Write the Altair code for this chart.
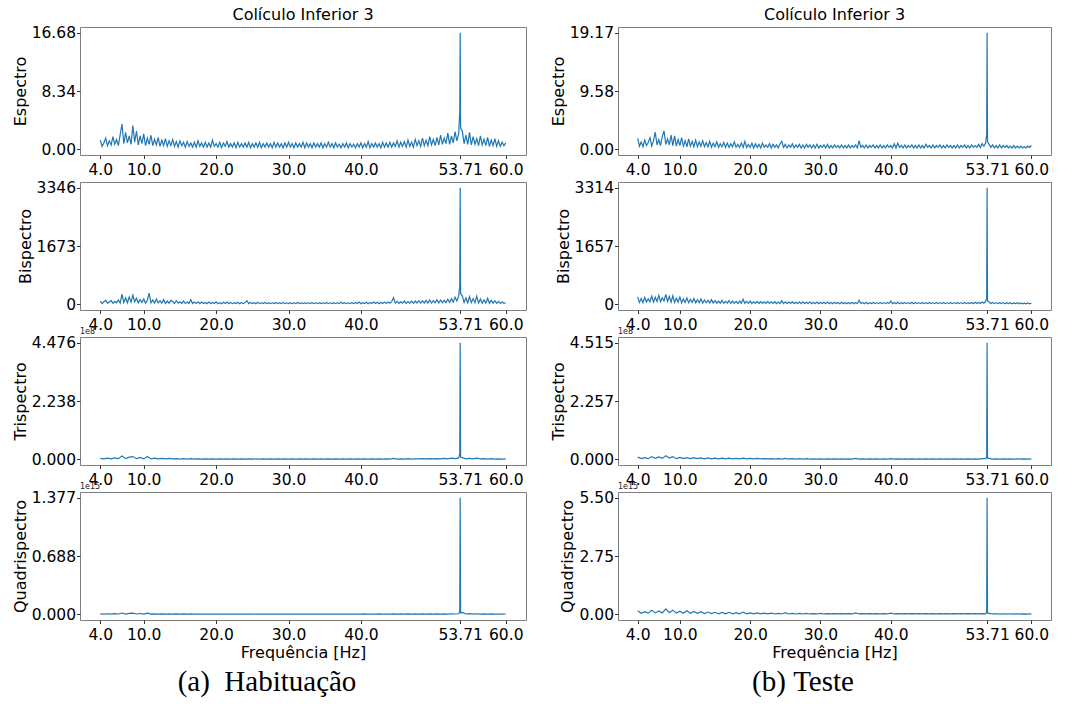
import altair as alt
import pandas as pd

# Frequency grid for the Espectro / Bispectro rows (Hz)
FREQ_A = [4.0, 4.25, 4.5, 4.75, 5.0, 5.25, 5.5, 5.75, 6.0, 6.25, 6.5, 6.75, 7.0, 7.25, 7.5, 7.75, 8.0, 8.25, 8.5, 8.75,
          9.0, 9.25, 9.5, 9.75, 10.0, 10.25, 10.5, 10.75, 11.0, 11.25, 11.5, 11.75, 12.0, 12.25, 12.5, 12.75, 13.0, 13.25, 13.5, 13.75,
          14.0, 14.25, 14.5, 14.75, 15.0, 15.25, 15.5, 15.75, 16.0, 16.25, 16.5, 16.75, 17.0, 17.25, 17.5, 17.75, 18.0, 18.25, 18.5, 18.75,
          19.0, 19.25, 19.5, 19.75, 20.0, 20.25, 20.5, 20.75, 21.0, 21.25, 21.5, 21.75, 22.0, 22.25, 22.5, 22.75, 23.0, 23.25, 23.5, 23.75,
          24.0, 24.25, 24.5, 24.75, 25.0, 25.25, 25.5, 25.75, 26.0, 26.25, 26.5, 26.75, 27.0, 27.25, 27.5, 27.75, 28.0, 28.25, 28.5, 28.75,
          29.0, 29.25, 29.5, 29.75, 30.0, 30.25, 30.5, 30.75, 31.0, 31.25, 31.5, 31.75, 32.0, 32.25, 32.5, 32.75, 33.0, 33.25, 33.5, 33.75,
          34.0, 34.25, 34.5, 34.75, 35.0, 35.25, 35.5, 35.75, 36.0, 36.25, 36.5, 36.75, 37.0, 37.25, 37.5, 37.75, 38.0, 38.25, 38.5, 38.75,
          39.0, 39.25, 39.5, 39.75, 40.0, 40.25, 40.5, 40.75, 41.0, 41.25, 41.5, 41.75, 42.0, 42.25, 42.5, 42.75, 43.0, 43.25, 43.5, 43.75,
          44.0, 44.25, 44.5, 44.75, 45.0, 45.25, 45.5, 45.75, 46.0, 46.25, 46.5, 46.75, 47.0, 47.25, 47.5, 47.75, 48.0, 48.25, 48.5, 48.75,
          49.0, 49.25, 49.5, 49.75, 50.0, 50.25, 50.5, 50.75, 51.0, 51.25, 51.5, 51.75, 52.0, 52.25, 52.5, 52.75, 53.0, 53.25, 53.5,
          53.65, 53.71, 53.77,
          54.0, 54.25, 54.5, 54.75, 55.0, 55.25, 55.5, 55.75, 56.0, 56.25, 56.5, 56.75, 57.0, 57.25, 57.5, 57.75, 58.0, 58.25, 58.5, 58.75,
          59.0, 59.25, 59.5, 59.75, 60.0]

# Frequency grid for the Trispectro / Quadrispectro rows (Hz)
FREQ_B = [4.0, 4.5, 5.0, 5.5, 6.0, 6.5, 7.0, 7.5, 8.0, 8.5,
          9.0, 9.5, 10.0, 10.5, 11.0, 11.5, 12.0, 12.5, 13.0, 13.5,
          14.0, 14.5, 15.0, 15.5, 16.0, 16.5, 17.0, 17.5, 18.0, 18.5,
          19.0, 19.5, 20.0, 20.5, 21.0, 21.5, 22.0, 22.5, 23.0, 23.5,
          24.0, 24.5, 25.0, 25.5, 26.0, 26.5, 27.0, 27.5, 28.0, 28.5,
          29.0, 29.5, 30.0, 30.5, 31.0, 31.5, 32.0, 32.5, 33.0, 33.5,
          34.0, 34.5, 35.0, 35.5, 36.0, 36.5, 37.0, 37.5, 38.0, 38.5,
          39.0, 39.5, 40.0, 40.5, 41.0, 41.5, 42.0, 42.5, 43.0, 43.5,
          44.0, 44.5, 45.0, 45.5, 46.0, 46.5, 47.0, 47.5, 48.0, 48.5,
          49.0, 49.5, 50.0, 50.5, 51.0, 51.5, 52.0, 52.5, 53.0, 53.5,
          53.65, 53.71, 53.77,
          54.0, 54.5, 55.0, 55.5, 56.0, 56.5, 57.0, 57.5, 58.0, 58.5, 59.0, 59.5, 60.0]

ESP_HAB = [1.3, 0.4, 0.9, 1.6, 0.5, 1.2, 0.6, 1.8, 0.7, 1.4, 0.5, 2.1, 3.6, 0.8, 2.4, 0.9, 1.9, 0.7, 3.4, 1.0,
           2.6, 0.6, 1.9, 0.8, 2.2, 0.5, 1.6, 0.7, 2.0, 0.5, 1.4, 0.6, 1.7, 0.4, 1.3, 0.5, 1.5, 0.4, 1.2, 0.5,
           1.4, 0.4, 1.1, 0.3, 1.2, 0.5, 1.0, 0.3, 1.1, 0.4, 0.9, 0.3, 1.0, 0.3, 1.2, 0.4, 0.9, 0.3, 1.0, 0.3,
           0.9, 0.3, 1.3, 0.4, 0.8, 0.3, 1.0, 0.2, 0.9, 0.4, 1.1, 0.3, 0.8, 0.3, 0.9, 0.2, 1.0, 0.3, 0.8, 0.3,
           0.9, 0.3, 1.0, 0.2, 0.8, 0.3, 0.9, 0.3, 1.0, 0.2, 0.8, 0.3, 0.9, 0.3, 0.8, 0.2, 1.0, 0.3, 0.9, 0.3,
           0.8, 0.2, 0.9, 0.3, 1.0, 0.3, 0.8, 0.2, 0.9, 0.3, 0.8, 0.3, 1.0, 0.2, 0.9, 0.3, 0.8, 0.2, 0.9, 0.3,
           0.8, 0.3, 0.9, 0.2, 0.8, 0.3, 1.0, 0.3, 0.8, 0.2, 0.9, 0.3, 0.7, 0.2, 0.8, 0.3, 0.9, 0.2, 0.8, 0.3,
           0.7, 0.2, 0.8, 0.3, 0.9, 0.2, 0.8, 0.3, 1.1, 0.2, 0.8, 0.3, 0.9, 0.3, 0.8, 0.2, 1.0, 0.3, 0.9, 0.3,
           1.0, 0.3, 0.9, 0.4, 1.2, 0.3, 1.0, 0.4, 1.1, 0.3, 1.3, 0.4, 1.0, 0.3, 1.4, 0.5, 1.2, 0.4, 1.6, 0.5,
           1.3, 0.5, 1.8, 0.6, 1.4, 0.5, 1.7, 0.6, 2.0, 0.7, 1.6, 0.8, 2.3, 0.7, 1.9, 0.9, 2.5, 1.2, 2.2,
           5.3, 16.68, 3.0,
           2.6, 0.8, 2.0, 0.7, 2.4, 0.6, 1.8, 0.7, 1.5, 0.5, 1.9, 0.6, 1.4, 0.5, 1.7, 0.4, 1.3, 0.5, 1.5, 0.4,
           1.2, 0.4, 1.0, 0.5, 0.9]

ESP_TES = [1.8, 0.5, 1.2, 0.4, 1.5, 0.6, 1.1, 1.9, 0.5, 1.4, 2.8, 0.7, 1.6, 0.6, 2.1, 3.0, 0.8, 1.7, 0.7, 2.3,
           0.6, 2.2, 0.5, 1.6, 0.6, 1.9, 0.5, 1.4, 0.4, 1.7, 0.5, 1.3, 0.4, 1.5, 0.4, 1.2, 0.5, 1.4, 0.4, 1.1,
           0.4, 1.3, 0.3, 1.0, 0.4, 1.2, 0.3, 0.9, 0.4, 1.1, 0.3, 1.0, 0.3, 0.9, 0.4, 1.2, 0.3, 0.8, 0.3, 1.0,
           0.3, 1.3, 0.3, 0.8, 0.3, 1.0, 0.2, 0.9, 0.3, 0.8, 0.2, 1.0, 0.3, 0.7, 0.3, 0.9, 0.2, 0.8, 0.3, 0.7,
           0.2, 0.9, 1.3, 0.3, 0.8, 0.2, 0.7, 0.3, 0.9, 0.2, 0.7, 0.3, 0.8, 0.2, 0.7, 0.2, 0.8, 0.3, 0.7, 0.2,
           0.7, 0.2, 0.8, 0.2, 0.6, 0.3, 0.7, 0.2, 0.8, 0.2, 0.6, 0.2, 0.7, 0.3, 0.6, 0.2, 0.7, 0.2, 0.6, 0.2,
           0.7, 0.2, 0.6, 0.3, 0.7, 0.2, 1.4, 0.3, 0.6, 0.2, 0.7, 0.2, 0.6, 0.3, 0.7, 0.2, 0.6, 0.2, 0.7, 0.2,
           0.6, 0.2, 0.7, 0.3, 0.6, 0.2, 0.9, 0.2, 1.0, 0.3, 0.6, 0.2, 0.7, 0.2, 0.6, 0.3, 0.7, 0.2, 0.6, 0.2,
           0.7, 0.2, 0.6, 0.2, 0.8, 0.3, 0.6, 0.2, 0.7, 0.2, 0.6, 0.3, 0.7, 0.2, 0.6, 0.2, 0.7, 0.3, 0.6, 0.2,
           0.6, 0.2, 0.7, 0.2, 0.6, 0.3, 0.7, 0.2, 0.6, 0.2, 0.7, 0.3, 0.6, 0.3, 0.8, 0.3, 0.9, 0.5, 1.0,
           2.4, 19.17, 1.2,
           0.8, 0.3, 0.7, 0.2, 0.6, 0.2, 0.7, 0.2, 0.6, 0.3, 0.6, 0.2, 0.5, 0.2, 0.6, 0.2, 0.5, 0.2, 0.5, 0.2,
           0.4, 0.2, 0.5, 0.3, 0.6]

BIS_HAB = [90, 20, 70, 110, 30, 60, 100, 25, 80, 40, 120, 30, 290, 50, 180, 40, 210, 60, 260, 70,
           170, 40, 130, 50, 150, 30, 110, 320, 40, 120, 30, 150, 40, 100, 30, 130, 20, 90, 30, 110,
           80, 20, 100, 30, 70, 20, 90, 20, 60, 20, 130, 20, 60, 20, 70, 15, 60, 20, 50, 15,
           60, 15, 50, 20, 70, 15, 45, 15, 55, 20, 60, 15, 50, 15, 45, 20, 55, 15, 50, 15,
           45, 100, 15, 50, 20, 45, 15, 55, 15, 40, 20, 50, 15, 45, 15, 40, 20, 50, 15, 45,
           15, 50, 15, 40, 20, 45, 15, 40, 15, 50, 20, 40, 15, 45, 15, 40, 20, 45, 15, 40,
           15, 45, 20, 40, 15, 50, 15, 40, 20, 45, 15, 40, 15, 55, 20, 45, 15, 40, 20, 45,
           15, 50, 20, 60, 15, 45, 20, 55, 15, 50, 20, 60, 20, 55, 15, 50, 20, 65, 20, 60,
           25, 70, 190, 30, 80, 25, 70, 30, 90, 25, 75, 30, 85, 25, 90, 30, 100, 30, 95, 35,
           110, 30, 120, 35, 100, 40, 130, 35, 120, 40, 110, 45, 140, 50, 160, 60, 200, 90, 230,
           520, 3346, 300,
           240, 50, 180, 40, 220, 45, 160, 40, 230, 35, 150, 30, 120, 30, 170, 25, 110, 30, 100, 25,
           80, 20, 60, 25, 40]

BIS_TES = [210, 50, 160, 40, 190, 60, 150, 70, 230, 60, 200, 80, 250, 70, 180, 90, 280, 80, 220, 60,
           240, 50, 170, 60, 200, 40, 150, 50, 180, 40, 140, 50, 160, 40, 130, 40, 150, 30, 120, 40,
           110, 30, 130, 30, 100, 25, 90, 30, 110, 25, 80, 30, 100, 20, 90, 25, 80, 20, 90, 25,
           140, 20, 80, 25, 90, 20, 70, 25, 80, 20, 75, 20, 70, 20, 80, 20, 65, 20, 70, 15,
           60, 15, 100, 20, 65, 15, 60, 20, 70, 15, 55, 20, 60, 15, 65, 15, 55, 20, 60, 15,
           55, 15, 60, 15, 50, 20, 55, 15, 60, 15, 50, 15, 55, 20, 50, 15, 55, 15, 50, 15,
           50, 15, 55, 15, 50, 15, 110, 20, 50, 15, 55, 15, 45, 20, 50, 15, 45, 15, 50, 15,
           45, 15, 50, 20, 90, 15, 50, 15, 55, 15, 45, 20, 50, 15, 45, 15, 55, 15, 50, 15,
           45, 15, 50, 15, 45, 20, 50, 15, 45, 15, 50, 15, 45, 15, 50, 15, 45, 15, 50, 15,
           45, 15, 50, 15, 45, 15, 50, 15, 45, 20, 50, 15, 55, 20, 50, 20, 60, 30, 80,
           170, 3314, 100,
           60, 20, 50, 15, 45, 15, 40, 15, 45, 10, 40, 15, 40, 10, 35, 15, 40, 10, 35, 10,
           30, 10, 35, 10, 30]

TRI_HAB = [0.03, 0.01, 0.04, 0.01, 0.05, 0.02, 0.12, 0.02, 0.08, 0.10,
           0.02, 0.07, 0.01, 0.10, 0.01, 0.04, 0.01, 0.03, 0.01, 0.03,
           0.01, 0.02, 0.005, 0.02, 0.005, 0.02, 0.005, 0.015, 0.005, 0.01,
           0.005, 0.01, 0.005, 0.01, 0.005, 0.01, 0.005, 0.01, 0.005, 0.01,
           0.005, 0.01, 0.005, 0.01, 0.005, 0.01, 0.005, 0.01, 0.005, 0.01,
           0.005, 0.01, 0.005, 0.01, 0.005, 0.01, 0.005, 0.01, 0.005, 0.01,
           0.005, 0.01, 0.005, 0.01, 0.005, 0.01, 0.005, 0.01, 0.005, 0.01,
           0.005, 0.01, 0.005, 0.015, 0.005, 0.01, 0.005, 0.015, 0.005, 0.01,
           0.005, 0.03, 0.005, 0.015, 0.005, 0.02, 0.005, 0.015, 0.01, 0.02,
           0.01, 0.02, 0.01, 0.025, 0.01, 0.03, 0.01, 0.04, 0.02, 0.05,
           0.20, 4.476, 0.08,
           0.06, 0.01, 0.03, 0.01, 0.04, 0.01, 0.02, 0.005, 0.02, 0.005, 0.015, 0.005, 0.01]

TRI_TES = [0.08, 0.02, 0.06, 0.02, 0.10, 0.03, 0.09, 0.03, 0.13, 0.04,
           0.10, 0.02, 0.07, 0.02, 0.06, 0.02, 0.06, 0.02, 0.05, 0.015,
           0.05, 0.01, 0.04, 0.01, 0.04, 0.01, 0.04, 0.01, 0.03, 0.01,
           0.04, 0.01, 0.03, 0.01, 0.03, 0.01, 0.025, 0.01, 0.025, 0.005,
           0.02, 0.005, 0.03, 0.005, 0.02, 0.005, 0.02, 0.005, 0.02, 0.005,
           0.015, 0.005, 0.015, 0.005, 0.015, 0.005, 0.015, 0.005, 0.015, 0.005,
           0.015, 0.005, 0.03, 0.005, 0.015, 0.005, 0.015, 0.005, 0.015, 0.005,
           0.015, 0.005, 0.02, 0.005, 0.015, 0.005, 0.015, 0.005, 0.015, 0.005,
           0.015, 0.005, 0.015, 0.005, 0.015, 0.005, 0.015, 0.005, 0.015, 0.005,
           0.015, 0.005, 0.015, 0.005, 0.015, 0.005, 0.015, 0.005, 0.02, 0.02,
           0.08, 4.515, 0.04,
           0.03, 0.005, 0.01, 0.005, 0.01, 0.005, 0.01, 0.005, 0.01, 0.005, 0.01, 0.005, 0.01]

QUA_HAB = [0.004, 0.001, 0.005, 0.001, 0.006, 0.002, 0.014, 0.002, 0.010, 0.012,
           0.002, 0.008, 0.001, 0.012, 0.001, 0.004, 0.001, 0.003, 0.001, 0.003,
           0.001, 0.003, 0.001, 0.003, 0.001, 0.003, 0.001, 0.002, 0.001, 0.002,
           0.001, 0.002, 0.001, 0.002, 0.001, 0.002, 0.001, 0.002, 0.001, 0.002,
           0.001, 0.002, 0.001, 0.002, 0.001, 0.002, 0.001, 0.002, 0.001, 0.002,
           0.001, 0.002, 0.001, 0.002, 0.001, 0.002, 0.001, 0.002, 0.001, 0.002,
           0.001, 0.002, 0.001, 0.002, 0.001, 0.002, 0.001, 0.002, 0.001, 0.002,
           0.001, 0.002, 0.001, 0.003, 0.001, 0.002, 0.001, 0.003, 0.001, 0.002,
           0.001, 0.004, 0.001, 0.003, 0.001, 0.003, 0.001, 0.003, 0.001, 0.003,
           0.001, 0.003, 0.001, 0.003, 0.001, 0.004, 0.001, 0.005, 0.002, 0.005,
           0.03, 1.377, 0.015,
           0.02, 0.002, 0.006, 0.001, 0.005, 0.001, 0.003, 0.001, 0.003, 0.001, 0.002, 0.001, 0.002]

QUA_TES = [0.16, 0.04, 0.12, 0.05, 0.18, 0.06, 0.15, 0.06, 0.25, 0.07,
           0.19, 0.05, 0.14, 0.04, 0.16, 0.04, 0.13, 0.04, 0.12, 0.03,
           0.10, 0.03, 0.09, 0.02, 0.08, 0.02, 0.09, 0.02, 0.07, 0.02,
           0.10, 0.02, 0.06, 0.02, 0.06, 0.015, 0.05, 0.015, 0.05, 0.01,
           0.04, 0.01, 0.07, 0.01, 0.04, 0.01, 0.04, 0.01, 0.035, 0.01,
           0.03, 0.01, 0.04, 0.01, 0.03, 0.01, 0.03, 0.01, 0.03, 0.01,
           0.03, 0.01, 0.06, 0.01, 0.03, 0.01, 0.03, 0.01, 0.03, 0.01,
           0.03, 0.01, 0.05, 0.01, 0.03, 0.01, 0.03, 0.01, 0.03, 0.01,
           0.03, 0.01, 0.03, 0.01, 0.03, 0.01, 0.03, 0.01, 0.03, 0.01,
           0.03, 0.01, 0.03, 0.01, 0.03, 0.01, 0.03, 0.01, 0.03, 0.02,
           0.10, 5.50, 0.05,
           0.04, 0.01, 0.02, 0.005, 0.02, 0.005, 0.02, 0.005, 0.015, 0.005, 0.015, 0.005, 0.015]

X_TICKS = [4.0, 10.0, 20.0, 30.0, 40.0, 53.71, 60.0]
TITLE = "Colículo Inferior 3"
X_TITLE = "Frequência [Hz]"
CAPTIONS = ["(a)\u00a0\u00a0Habituação", "(b)\u00a0Teste"]

# (freq grid, values, ymax, y label, tick label strings, offset text)
LEFT = [
    (FREQ_A, ESP_HAB, 16.68, "Espectro", ["0.00", "8.34", "16.68"], None),
    (FREQ_A, BIS_HAB, 3346, "Bispectro", ["0", "1673", "3346"], None),
    (FREQ_B, TRI_HAB, 4.476, "Trispectro", ["0.000", "2.238", "4.476"], "1e8"),
    (FREQ_B, QUA_HAB, 1.377, "Quadrispectro", ["0.000", "0.688", "1.377"], "1e15"),
]
RIGHT = [
    (FREQ_A, ESP_TES, 19.17, "Espectro", ["0.00", "9.58", "19.17"], None),
    (FREQ_A, BIS_TES, 3314, "Bispectro", ["0", "1657", "3314"], None),
    (FREQ_B, TRI_TES, 4.515, "Trispectro", ["0.000", "2.257", "4.515"], "1e8"),
    (FREQ_B, QUA_TES, 5.50, "Quadrispectro", ["0.00", "2.75", "5.50"], "1e15"),
]

PANEL_H = 128
LEFT_W = 446
RIGHT_W = 433
BLUE = "#1f77b4"


def panel(spec, width, row, caption, caption_x):
    freq, values, ymax, ylab, ylabels, offset = spec
    df = pd.DataFrame({"freq": freq, "val": values})
    label_expr = (
        f"datum.value < {ymax * 0.25} ? '{ylabels[0]}' : "
        f"(datum.value < {ymax * 0.75} ? '{ylabels[1]}' : '{ylabels[2]}')"
    )
    x_axis = dict(
        values=X_TICKS,
        labelExpr="datum.value == 53.71 ? '53.71' : format(datum.value, '.1f')",
        labelPadding=4,
    )
    if row == 3:
        x_axis["titlePadding"] = 1
        x_enc = alt.X("freq:Q", title=X_TITLE,
                      scale=alt.Scale(domain=[1.2, 62.8], nice=False, zero=False),
                      axis=alt.Axis(**x_axis))
    else:
        x_enc = alt.X("freq:Q", title=None,
                      scale=alt.Scale(domain=[1.2, 62.8], nice=False, zero=False),
                      axis=alt.Axis(**x_axis))
    y_enc = alt.Y(
        "val:Q",
        title=ylab,
        scale=alt.Scale(domain=[-0.05 * ymax, 1.05 * ymax], nice=False, zero=False),
        axis=alt.Axis(values=[0, ymax / 2, ymax], labelExpr=label_expr),
    )
    line = alt.Chart(df).mark_line(color=BLUE, strokeWidth=1.2).encode(x=x_enc, y=y_enc)
    layers = [line]
    if offset:
        layers.append(
            alt.Chart(pd.DataFrame({"t": [offset]}))
            .mark_text(align="left", baseline="bottom", fontSize=8, font="DejaVu Sans", color="#222222")
            .encode(text="t:N", x=alt.value(0), y=alt.value(-1))
        )
    if caption:
        layers.append(
            alt.Chart(pd.DataFrame({"t": [caption]}))
            .mark_text(align="center", baseline="alphabetic", fontSize=29,
                       font="Liberation Serif", color="black")
            .encode(text="t:N", x=alt.value(caption_x), y=alt.value(199))
        )
    props = dict(width=width, height=PANEL_H)
    if row == 0:
        props["title"] = alt.TitleParams(TITLE, anchor="middle", offset=3)
    return alt.layer(*layers).properties(**props)


panels = []
for r in range(4):
    panels.append(panel(LEFT[r], LEFT_W, r, CAPTIONS[0] if r == 3 else None, 187))
    panels.append(panel(RIGHT[r], RIGHT_W, r, CAPTIONS[1] if r == 3 else None, 185))

chart = (
    alt.concat(*panels, columns=2, spacing={"row": 27, "column": 92}, bounds="flush")
    .properties(padding={"left": 11, "top": 6, "right": 5, "bottom": 0}, background="white")
    .configure_view(stroke="#7f7f7f", strokeWidth=1)
    .configure_axis(
        labelFont="DejaVu Sans",
        labelFontSize=15.5,
        labelColor="black",
        titleFont="DejaVu Sans",
        titleFontSize=16,
        titleFontWeight="normal",
        titleColor="black",
        titlePadding=3,
        tickColor="#333333",
        tickSize=3.5,
        labelPadding=1,
        grid=False,
        domain=False,
        labelOverlap=False,
        labelFlush=False,
    )
    .configure_title(font="DejaVu Sans", fontSize=16, fontWeight="normal", color="black")
)

chart.save("out.html", embed_options={"renderer": "svg", "actions": False})
